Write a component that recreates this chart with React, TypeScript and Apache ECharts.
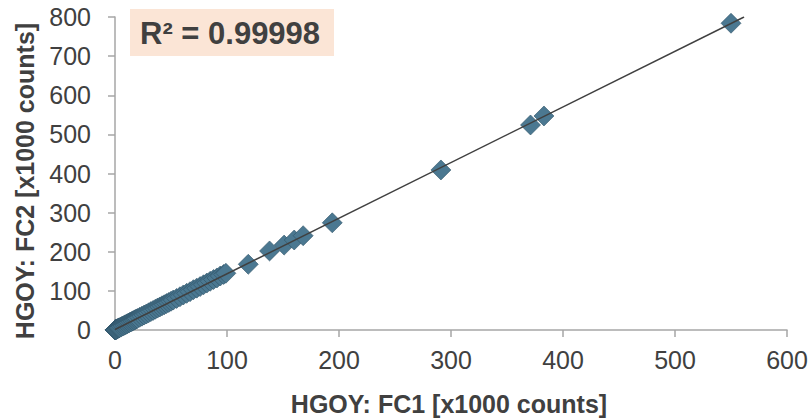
import React, { useEffect, useRef } from "react";
import * as echarts from "echarts";

const fc1Values: number[] = [
  0, 0.1, 0.2, 0.3, 0.5, 0.6, 0.8, 1, 1.5, 2, 2.5, 3, 3.5, 4, 5, 6, 7, 8, 9, 10,
  11, 12, 13, 14, 15, 16, 17, 18, 19, 20, 22, 24, 26, 28, 30, 32, 34, 36, 38, 40,
  42, 44, 46, 48, 50, 52, 55, 58, 61, 64, 67, 70, 73, 76, 79, 82, 85, 88, 91, 94,
  97, 99, 119, 138, 151, 160, 168, 194, 291, 371, 383, 550,
];
const fc2Values: number[] = [
  0, 0.2, 0.3, 0.5, 0.7, 0.9, 1.2, 1.5, 2.2, 3, 3.7, 4.4, 5.2, 5.9, 7.3, 8.8, 10.2, 11.7, 13.1, 14.6,
  16, 17.6, 19, 20.5, 22, 23.4, 25, 26.4, 28, 29.5, 32.4, 35.3, 38.2, 41, 44, 47, 50, 53, 56, 58.8,
  62, 64.6, 67.5, 70.5, 73.4, 76.5, 80.6, 85, 89.5, 93.7, 98, 103, 107, 111, 115.6, 120, 124.5, 129, 133, 138,
  142, 145, 168, 202, 217, 230, 241, 274, 409, 524, 547, 784,
];
const xTicks = { min: 0, max: 600, interval: 100 };
const yTicks = { min: 0, max: 800, interval: 100 };
const xTitle = "HGOY: FC1 [x1000 counts]";
const yTitle = "HGOY: FC2 [x1000 counts]";
const r2Text = "R² = 0.99998";

export default function App() {
  const ref = useRef<HTMLDivElement>(null);
  useEffect(() => {
    document.body.style.margin = "0";
    if (!ref.current) return;
    const chart = echarts.init(ref.current, null, { renderer: "svg" });
    const points = fc1Values.map((x, i) => [x, fc2Values[i]]);
    const n = points.length;
    let sx = 0, sy = 0, sxx = 0, sxy = 0;
    points.forEach(([x, y]) => { sx += x; sy += y; sxx += x * x; sxy += x * y; });
    const slope = (n * sxy - sx * sy) / (n * sxx - sx * sx);
    const icpt = (sy - slope * sx) / n;
    const xEnd = Math.min(xTicks.max, (yTicks.max - icpt) / slope);
    const font = "'Liberation Sans', Arial, sans-serif";
    chart.setOption({
      animation: false,
      grid: { left: 115, right: 25, top: 17, bottom: 90 },
      xAxis: {
        type: "value",
        min: xTicks.min, max: xTicks.max, interval: xTicks.interval,
        axisLine: { show: true, onZero: false, lineStyle: { color: "#a6a6a6", width: 1.5 } },
        axisTick: { show: true, length: 7, lineStyle: { color: "#a6a6a6", width: 1.5 } },
        splitLine: { show: false },
        axisLabel: { color: "#404040", fontSize: 25, fontFamily: font, margin: 17 },
      },
      yAxis: {
        type: "value",
        min: yTicks.min, max: yTicks.max, interval: yTicks.interval,
        axisLine: { show: true, onZero: false, lineStyle: { color: "#a6a6a6", width: 1.5 } },
        axisTick: { show: true, length: 7, lineStyle: { color: "#a6a6a6", width: 1.5 } },
        splitLine: { show: false },
        axisLabel: { color: "#404040", fontSize: 25, fontFamily: font, margin: 24 },
      },
      series: [
        {
          type: "scatter",
          data: points,
          symbol: "diamond",
          symbolSize: 20,
          itemStyle: { color: "#4b7891", opacity: 1, borderColor: "#2f5366", borderWidth: 0.6 },
          z: 2,
        },
        {
          type: "line",
          data: [[0, icpt], [xEnd, icpt + slope * xEnd]],
          symbol: "none",
          lineStyle: { color: "#404040", width: 1.5 },
          z: 3,
        },
      ],
      graphic: [
        { type: "rect", shape: { x: 130, y: 9, width: 204, height: 47 }, style: { fill: "#fbe5d6" }, z: 10 },
        {
          type: "text", x: 140, y: 33, z: 11,
          style: { text: r2Text, fill: "#404040", font: `bold 31px ${font}`, verticalAlign: "middle" },
        },
        {
          type: "text", x: 449, y: 404, z: 11,
          style: { text: xTitle, fill: "#404040", font: `bold 25px ${font}`, align: "center", verticalAlign: "middle" },
        },
        {
          type: "text", x: 25, y: 181, rotation: Math.PI / 2, z: 11,
          style: { text: yTitle, fill: "#404040", font: `bold 25px ${font}`, align: "center", verticalAlign: "middle" },
        },
      ],
    });
    return () => chart.dispose();
  }, []);
  return <div ref={ref} style={{ width: 812, height: 420 }} />;
}
